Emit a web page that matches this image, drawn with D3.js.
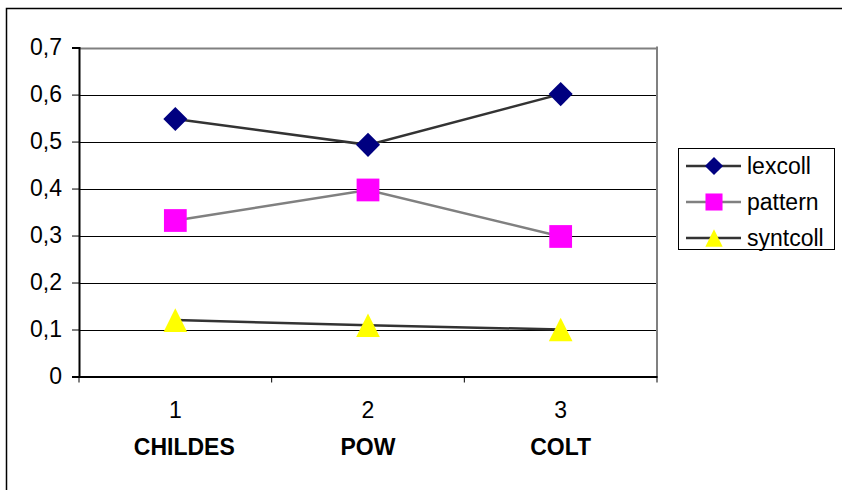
<!DOCTYPE html>
<html>
<head>
<meta charset="utf-8">
<script src="https://cdn.jsdelivr.net/npm/d3@7"></script>
<style>
  body { margin: 0; background: #fff; }
  svg { font-family: "Liberation Sans", Arial, sans-serif; }
</style>
</head>
<body>
<div id="chart"></div>
<script>
// chart data
var categories = ["1", "2", "3"];
var corpora = ["CHILDES", "POW", "COLT"];
var lexcoll = [0.548, 0.493, 0.601];
var pattern = [0.332, 0.397, 0.298];
var syntcoll = [0.120, 0.109, 0.100];
var yTicks = [0, 0.1, 0.2, 0.3, 0.4, 0.5, 0.6, 0.7];

// triangle as wide as it is tall, like the spreadsheet marker
var symbolTallTriangle = {
    draw: function(context, size) {
        var h = Math.sqrt(size * 2) / 2;
        context.moveTo(0, -h);
        context.lineTo(h, h);
        context.lineTo(-h, h);
        context.closePath();
    }
};

var series = [
    { name: "lexcoll", values: lexcoll, line: "#333333", fill: "#000080", shape: d3.symbolDiamond2, size: 370, legendSize: 210 },
    { name: "pattern", values: pattern, line: "#808080", fill: "#ff00ff", shape: d3.symbolSquare2, size: 660, legendSize: 370 },
    { name: "syntcoll", values: syntcoll, line: "#333333", fill: "#ffff00", shape: symbolTallTriangle, size: 280, legendSize: 150 }
];

var width = 842, height = 490;
var plot = { left: 79, right: 657, top: 47.6, bottom: 376.5 };
var fontSize = 23;

var svg = d3.select("#chart").append("svg")
    .attr("width", width)
    .attr("height", height);

// outer chart frame
svg.append("rect")
    .attr("x", 6.5).attr("y", 8.5)
    .attr("width", 860).attr("height", 500)
    .attr("fill", "none").attr("stroke", "#000").attr("stroke-width", 1.5);

var x = d3.scaleBand()
    .domain(categories)
    .range([plot.left, plot.right]);

var y = d3.scaleLinear()
    .domain([0, 0.7])
    .range([plot.bottom, plot.top]);

// grid lines
svg.append("g")
    .selectAll("line")
    .data(yTicks.slice(1))
    .enter()
    .append("line")
    .attr("x1", plot.left).attr("x2", plot.right)
    .attr("y1", function(d) { return Math.round(y(d)) + 0.5; })
    .attr("y2", function(d) { return Math.round(y(d)) + 0.5; })
    .attr("stroke", function(d) { return d === 0.7 ? "#808080" : "#000"; })
    .attr("stroke-width", function(d) { return d === 0.7 ? 2 : 1; });

// right border of plot area
svg.append("line")
    .attr("x1", plot.right).attr("x2", plot.right)
    .attr("y1", plot.top - 1).attr("y2", plot.bottom + 6)
    .attr("stroke", "#808080").attr("stroke-width", 2);

// y axis
var yAxis = d3.axisLeft(y)
    .tickValues(yTicks)
    .tickSize(7)
    .tickPadding(10)
    .tickFormat(function(d) { return d3.format(".1f")(d).replace(".", ",").replace(/^0,0$/, "0"); });

var gy = svg.append("g")
    .attr("transform", "translate(" + plot.left + ",0)")
    .call(yAxis);
gy.attr("font-size", fontSize).attr("font-family", null);
gy.select(".domain").attr("stroke", "#000").attr("stroke-width", 2);
gy.selectAll(".tick line").attr("stroke", "#000");
gy.selectAll(".tick text").attr("fill", "#000");

// x axis
var xAxis = d3.axisBottom(x)
    .tickSize(0)
    .tickPadding(25);

var gx = svg.append("g")
    .attr("transform", "translate(0," + plot.bottom + ")")
    .call(xAxis);
gx.attr("font-size", fontSize).attr("font-family", null);
gx.select(".domain").attr("stroke", "#000").attr("stroke-width", 2);
gx.selectAll(".tick text").attr("fill", "#000");

// x axis tick marks at band boundaries
svg.append("g")
    .selectAll("line")
    .data(categories.slice(1))
    .enter()
    .append("line")
    .attr("x1", function(d) { return x(d); })
    .attr("x2", function(d) { return x(d); })
    .attr("y1", plot.bottom).attr("y2", plot.bottom + 6)
    .attr("stroke", "#000");
svg.append("line")
    .attr("x1", plot.left).attr("x2", plot.left)
    .attr("y1", plot.bottom).attr("y2", plot.bottom + 6)
    .attr("stroke", "#000");

var cx = function(d, i) { return x(categories[i]) + x.bandwidth() / 2; };

// corpus names
svg.append("g")
    .selectAll("text")
    .data(corpora)
    .enter()
    .append("text")
    .attr("x", function(d, i) { return cx(d, i) + (i === 0 ? 9 : 0); })
    .attr("y", 455)
    .attr("text-anchor", "middle")
    .attr("font-size", fontSize)
    .attr("font-weight", "bold")
    .text(function(d) { return d; });

var line = d3.line()
    .x(cx)
    .y(function(d) { return y(d); });

series.forEach(function(s) {
    svg.append("path")
        .datum(s.values)
        .attr("d", line)
        .attr("fill", "none")
        .attr("stroke", s.line)
        .attr("stroke-width", 2.5);

    svg.append("g")
        .selectAll("path")
        .data(s.values)
        .enter()
        .append("path")
        .attr("transform", function(d, i) { return "translate(" + cx(d, i) + "," + y(d) + ")"; })
        .attr("d", d3.symbol().type(s.shape).size(s.size))
        .attr("fill", s.fill);
});

// legend
var legend = svg.append("g");
legend.append("rect")
    .attr("x", 678.5).attr("y", 148.5)
    .attr("width", 156).attr("height", 101)
    .attr("fill", "#fff").attr("stroke", "#000");

var items = legend.selectAll("g.item")
    .data(series)
    .enter()
    .append("g")
    .attr("class", "item")
    .attr("transform", function(d, i) { return "translate(0," + (166 + i * 36) + ")"; });

items.append("line")
    .attr("x1", 686).attr("x2", 741)
    .attr("y1", 0).attr("y2", 0)
    .attr("stroke", function(d) { return d.line; })
    .attr("stroke-width", 2.5);
items.append("path")
    .attr("transform", "translate(714,0)")
    .attr("d", function(d) { return d3.symbol().type(d.shape).size(d.legendSize)(); })
    .attr("fill", function(d) { return d.fill; });
items.append("text")
    .attr("x", 747)
    .attr("y", 8)
    .attr("font-size", fontSize)
    .text(function(d) { return d.name; });
</script>
</body>
</html>
